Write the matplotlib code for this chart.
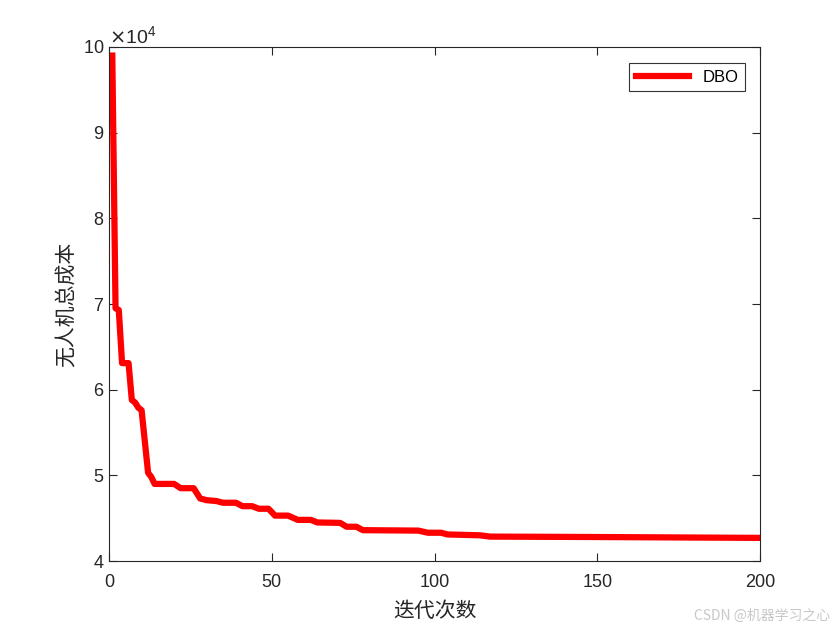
import matplotlib
matplotlib.use("Agg")
import matplotlib.pyplot as plt
from matplotlib.ticker import ScalarFormatter

plt.rcParams['font.family'] = ['Liberation Sans', 'Noto Sans CJK SC', 'DejaVu Sans']

# best-so-far cost at the iterations where the curve changes slope
iters = [1, 2, 3, 4, 6, 7, 8, 9, 10, 12, 13, 14, 20, 22, 26, 28, 30, 33, 35, 39,
         41, 44, 46, 49, 51, 55, 58, 62, 64, 71, 73, 76, 78, 95, 98, 102, 104,
         114, 117, 150, 200]
cost = [99000, 69500, 69300, 63100, 63100, 58800, 58500, 57900, 57600, 50300,
        49800, 49000, 49000, 48500, 48500, 47300, 47100, 47000, 46800, 46800,
        46400, 46400, 46100, 46100, 45300, 45300, 44800, 44800, 44500, 44450,
        44000, 44000, 43600, 43550, 43300, 43300, 43100, 43000, 42850, 42800,
        42700]

fig = plt.figure(figsize=(8.4, 6.3), dpi=100)
ax = fig.add_axes([0.1298, 0.1095, 0.775, 0.8159])

ax.plot(iters, cost, color='red', linewidth=4.5, label='DBO')

ax.set_xlim(0, 200)
ax.set_ylim(40000, 100000)
ax.set_xticks([0, 50, 100, 150, 200])
ax.set_yticks([40000, 50000, 60000, 70000, 80000, 90000, 100000])

fmt = ScalarFormatter(useMathText=True)
fmt.set_powerlimits((4, 4))
ax.yaxis.set_major_formatter(fmt)
ax.yaxis.get_offset_text().set_fontsize(14)
ax.yaxis.get_offset_text().set_color('#262626')

ax.tick_params(direction='in', length=6, width=0.8, labelsize=13,
               top=True, right=True, colors='#262626')
ax.tick_params(axis='x', pad=9)
for s in ax.spines.values():
    s.set_linewidth(0.8)
    s.set_color('#262626')

cjk = ['Noto Sans CJK SC', 'DejaVu Sans']
ax.set_xlabel('迭代次数', family=cjk, fontsize=15, color='#262626', labelpad=7)
ax.set_ylabel('无人机总成本', family=cjk, fontsize=15, color='#262626')

leg = ax.legend(loc='upper right', fontsize=12, frameon=True, fancybox=False,
                edgecolor='black', handlelength=3.2, borderpad=0.4,
                borderaxespad=0, bbox_to_anchor=(0.977, 0.969))
leg.get_frame().set_linewidth(0.8)

fig.text(0.988, 0.012, 'CSDN @机器学习之心', family=cjk, fontsize=10,
         color='#c8c8c8', ha='right', va='bottom')

fig.savefig('out.png', dpi=100, facecolor='white')
